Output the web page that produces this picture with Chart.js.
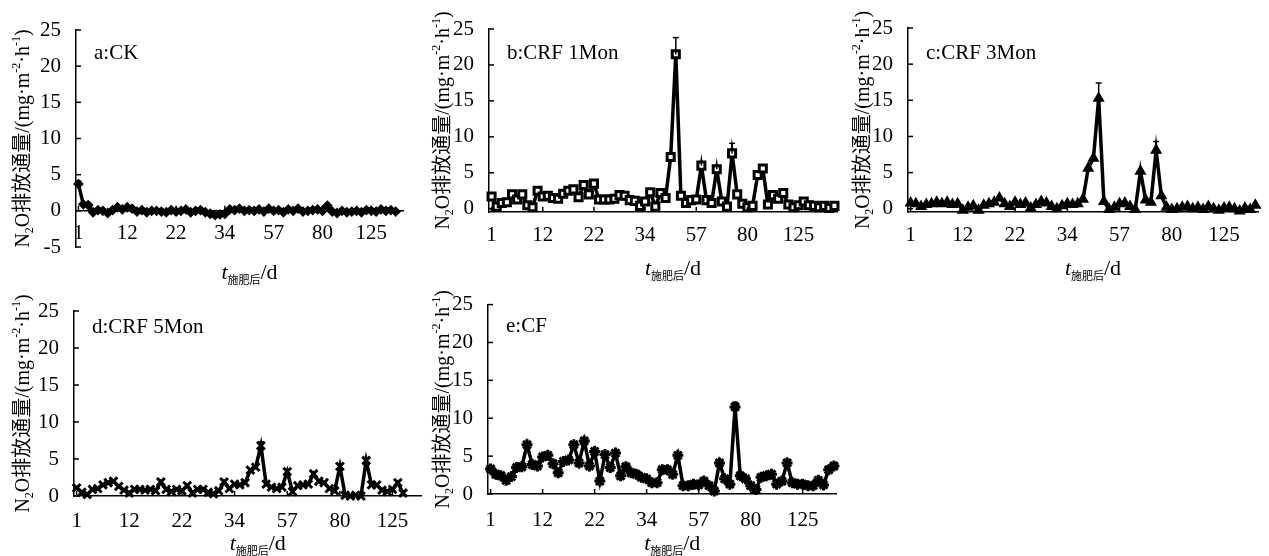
<!DOCTYPE html>
<html>
<head>
<meta charset="utf-8">
<script src="https://cdn.jsdelivr.net/npm/chart.js@4.4.0/dist/chart.umd.min.js"></script>
<style>
  html, body { margin: 0; padding: 0; background: #fff; }
  #wrap { position: relative; width: 1269px; height: 556px; overflow: hidden; }
  canvas { position: absolute; }
</style>
</head>
<body>
<div id="wrap">
  <canvas id="ca"></canvas>
  <canvas id="cb"></canvas>
  <canvas id="cc"></canvas>
  <canvas id="cd"></canvas>
  <canvas id="ce"></canvas>
</div>
<script>
// ---- data ----
const dayTicks = ['1', '12', '22', '34', '57', '80', '125'];
const yTicksA = [-5, 0, 5, 10, 15, 20, 25];
const yTicks = [0, 5, 10, 15, 20, 25];

const aCK = [3.7, 0.9, 0.8, -0.2, 0.1, 0.0, -0.3, 0.1, 0.5, 0.2,
  0.5, 0.3, -0.1, 0.1, -0.2, 0.0, 0.0, -0.1, -0.2, 0.1,
  -0.1, 0.0, 0.2, -0.2, 0.0, 0.1, -0.2, -0.4, -0.6, -0.5,
  -0.4, 0.2, 0.1, 0.3, 0.0, 0.1, 0.0, 0.2, -0.1, 0.3,
  0.0, 0.1, -0.2, 0.2, 0.0, 0.3, -0.1, 0.0, 0.1, 0.2,
  0.0, 0.7, -0.1, -0.3, 0.0, -0.2, -0.1, 0.0, -0.2, 0.1,
  0.0, -0.1, 0.2, 0.0, 0.1, -0.1];

const bCRF1 = [1.7, 0.3, 0.8, 0.9, 2.0, 1.3, 2.0, 0.5, 0.2, 2.5,
  1.7, 1.8, 1.5, 1.4, 2.1, 2.5, 2.7, 1.6, 3.3, 2.0,
  3.5, 1.3, 1.3, 1.3, 1.4, 1.9, 1.8, 1.2, 1.1, 0.4,
  1.0, 2.3, 0.3, 2.2, 1.5, 7.2, 21.5, 1.8, 0.8, 1.2,
  1.3, 6.0, 1.2, 0.8, 5.5, 1.0, 0.3, 7.7, 2.0, 0.7,
  0.2, 0.4, 4.7, 5.6, 0.6, 1.9, 1.4, 2.2, 0.6, 0.2,
  0.5, 1.0, 0.5, 0.4, 0.2, 0.4, 0.1, 0.4];

const cCRF3 = [0.8, 0.7, 0.3, 0.6, 0.7, 0.9, 0.7, 0.9, 0.6, 0.7,
  -0.2, 0.2, 0.4, -0.2, 0.5, 0.7, 0.9, 1.5, 0.7, 0.3,
  0.9, 0.6, 0.8, 0.1, 0.6, 1.0, 0.8, 0.3, 0.0, 0.4,
  0.7, 0.6, 0.7, 1.3, 5.6, 7.0, 15.3, 1.0, -0.1, 0.2,
  0.7, 0.8, 0.3, -0.1, 5.2, 1.2, 0.9, 8.1, 1.8, 0.2,
  -0.1, 0.0, 0.2, 0.3, 0.0, 0.2, -0.1, 0.3, 0.0, -0.2,
  0.1, 0.2, 0.0, -0.3, 0.1, -0.1, 0.5];

const dCRF5 = [1.1, 0.5, 0.2, 0.9, 1.0, 1.5, 1.8, 2.0, 1.3, 0.8,
  0.4, 0.9, 0.9, 0.8, 0.9, 0.7, 1.9, 0.9, 0.6, 0.9,
  0.7, 1.4, 0.4, 0.9, 0.9, 0.5, 0.3, 0.7, 1.9, 1.0,
  1.6, 1.5, 1.8, 3.5, 3.9, 6.8, 1.6, 1.2, 1.0, 1.2,
  3.3, 0.6, 1.4, 1.5, 1.6, 3.0, 2.0, 1.8, 1.0, 0.7,
  4.0, 0.1, 0.0, 0.1, 0.0, 4.8, 1.5, 1.5, 0.8, 0.6,
  0.9, 1.8, 0.4];

const eCF = [3.3, 2.6, 2.4, 1.8, 2.3, 3.5, 3.6, 6.5, 3.9, 3.7,
  4.9, 5.1, 4.0, 2.8, 4.3, 4.5, 6.5, 4.1, 7.0, 3.7,
  5.6, 1.7, 5.2, 3.5, 5.4, 2.4, 3.6, 2.8, 2.6, 2.2,
  2.0, 1.5, 1.5, 3.2, 3.2, 2.6, 5.1, 1.1, 1.1, 1.3,
  1.2, 1.7, 1.1, 0.4, 4.1, 2.0, 1.3, 11.5, 2.4, 2.0,
  1.1, 0.6, 2.2, 2.4, 2.6, 1.3, 1.7, 4.1, 1.5, 1.3,
  1.3, 1.1, 1.1, 1.8, 1.2, 3.2, 3.7];

// upper error bars: [index, error]
const aErr = [[0, 0.4]];
const bErr = [[36, 2.3], [47, 1.4], [41, 0.5], [44, 0.4]];
const cErr = [[36, 2.1], [47, 1.2]];
const dErr = [[35, 0.5]];
const eErr = [[47, 0.6]];

const SERIF = "'Liberation Serif', 'Times New Roman', serif";
const MIXED = "'Liberation Serif', 'Noto Sans CJK SC', serif";
const CJK = "'Noto Sans CJK SC', sans-serif";

// ---- drawing helpers ----
function richText(ctx, segs, x, y, rotate) {
  ctx.save();
  ctx.translate(x, y);
  if (rotate) ctx.rotate(-Math.PI / 2);
  ctx.textBaseline = 'alphabetic';
  ctx.fillStyle = '#000';
  let w = 0;
  segs.forEach(s => { ctx.font = s.font; w += ctx.measureText(s.t).width; });
  let cx = -w / 2;
  segs.forEach(s => {
    ctx.font = s.font;
    ctx.fillText(s.t, cx, s.dy);
    cx += ctx.measureText(s.t).width;
  });
  ctx.restore();
}

const yTitle = [
  { t: 'N', font: `20px ${MIXED}`, dy: 7 },
  { t: '2', font: `12px ${SERIF}`, dy: 11 },
  { t: 'O排放通量/(mg·m', font: `20px ${MIXED}`, dy: 7 },
  { t: '-2', font: `12px ${SERIF}`, dy: -2 },
  { t: '·h', font: `20px ${MIXED}`, dy: 7 },
  { t: '-1', font: `12px ${SERIF}`, dy: -2 },
  { t: ')', font: `20px ${MIXED}`, dy: 7 }
];
const xTitle = [
  { t: 't', font: `italic 22px ${SERIF}`, dy: 7 },
  { t: '施肥后', font: `11px ${CJK}`, dy: 12 },
  { t: '/d', font: `22px ${SERIF}`, dy: 7 }
];

function line(ctx, x1, y1, x2, y2) {
  ctx.beginPath(); ctx.moveTo(x1, y1); ctx.lineTo(x2, y2); ctx.stroke();
}

const decor = {
  id: 'decor',
  afterDraw(chart, args, o) {
    const ctx = chart.ctx, a = chart.chartArea;
    const xs = chart.scales.x, ys = chart.scales.y;
    const axY = o.zeroAxis ? ys.getPixelForValue(0) : a.bottom;
    ctx.save();
    ctx.strokeStyle = '#000';
    ctx.lineWidth = 1.5;
    // inward tick marks
    ys.ticks.forEach(t => {
      const y = ys.getPixelForValue(t.value);
      line(ctx, a.left, y, a.left + 5, y);
    });
    chart.data.labels.forEach((l, i) => {
      if (!l) return;
      const x = xs.getPixelForValue(i);
      line(ctx, x, axY, x, axY - 5);
    });
    // error bars
    const data = chart.data.datasets[0].data;
    o.err.forEach(([i, e]) => {
      const x = xs.getPixelForValue(i);
      const y1 = ys.getPixelForValue(data[i]);
      const y2 = ys.getPixelForValue(data[i] + e);
      line(ctx, x, y1, x, y2);
      line(ctx, x - 3, y2, x + 3, y2);
    });
    // panel name
    ctx.fillStyle = '#000';
    ctx.font = `21px ${SERIF}`;
    ctx.textBaseline = 'middle';
    ctx.textAlign = 'left';
    ctx.fillText(o.name, a.left + 18, a.top + o.nameDy);
    ctx.restore();
    // axis titles
    richText(ctx, yTitle, 22, (a.top + a.bottom) / 2, true);
    richText(ctx, xTitle, (a.left + a.right) / 2 + 10, o.xTitleY, false);
  }
};
Chart.register(decor);

function makePanel(id, box, area, cfg) {
  const cv = document.getElementById(id);
  cv.width = box.w; cv.height = box.h;
  cv.style.left = box.x + 'px'; cv.style.top = box.y + 'px';
  const labels = Array.from({ length: cfg.nCat }, (_, i) => i % 10 === 0 ? (dayTicks[i / 10] || '') : '');
  const tickFont = { family: SERIF, size: 21 };
  return new Chart(cv, {
    type: 'line',
    data: {
      labels: labels,
      datasets: [{
        data: cfg.data,
        borderColor: '#000',
        borderWidth: 3.5,
        tension: 0,
        clip: false,
        pointStyle: cfg.pointStyle,
        pointRadius: cfg.pointRadius,
        pointBackgroundColor: cfg.pointFill,
        pointBorderColor: '#000',
        pointBorderWidth: cfg.pointBorder
      }]
    },
    options: {
      responsive: false,
      animation: false,
      devicePixelRatio: 1,
      layout: {
        padding: {
          left: 0,
          top: area.t - box.y,
          right: box.x + box.w - area.r,
          bottom: cfg.zeroAxis ? box.y + box.h - area.b : 0
        }
      },
      plugins: {
        legend: { display: false },
        tooltip: { enabled: false },
        decor: { name: cfg.name, nameDy: cfg.nameDy, err: cfg.err, zeroAxis: cfg.zeroAxis, xTitleY: cfg.xTitleY }
      },
      scales: {
        x: {
          type: 'category',
          offset: true,
          position: cfg.zeroAxis ? { y: 0 } : 'bottom',
          grid: { display: false },
          border: { color: '#000', width: 1.5 },
          ticks: { autoSkip: false, maxRotation: 0, padding: cfg.xPad, font: tickFont, color: '#000' },
          afterFit: s => { if (!cfg.zeroAxis) s.height = box.y + box.h - area.b; }
        },
        y: {
          min: cfg.yMin,
          max: 25,
          grid: { display: false },
          border: { color: '#000', width: 1.5 },
          ticks: { padding: 7, font: tickFont, color: '#000' },
          afterBuildTicks: s => { s.ticks = cfg.yTicks.map(v => ({ value: v })); },
          afterFit: s => { s.width = area.l - box.x; }
        }
      }
    }
  });
}

makePanel('ca', { x: 0, y: 0, w: 412, h: 285 }, { l: 76, t: 30, r: 403, b: 247 }, {
  nCat: 67, data: aCK, yMin: -5, yTicks: yTicksA, zeroAxis: true, xPad: 2, xTitleY: 272,
  name: 'a:CK', nameDy: 23, err: aErr,
  pointStyle: 'rectRot', pointRadius: 4, pointFill: '#000', pointBorder: 2
});
makePanel('cb', { x: 420, y: 0, w: 425, h: 285 }, { l: 489, t: 29, r: 838, b: 212 }, {
  nCat: 68, data: bCRF1, yMin: -0.45, yTicks: yTicks, zeroAxis: false, xPad: 3, xTitleY: 268,
  name: 'b:CRF 1Mon', nameDy: 24, err: bErr,
  pointStyle: 'rect', pointRadius: 5, pointFill: '#fff', pointBorder: 3
});
makePanel('cc', { x: 840, y: 0, w: 429, h: 285 }, { l: 908, t: 28, r: 1258, b: 212 }, {
  nCat: 67, data: cCRF3, yMin: -0.45, yTicks: yTicks, zeroAxis: false, xPad: 3, xTitleY: 268,
  name: 'c:CRF 3Mon', nameDy: 25, err: cErr,
  pointStyle: 'triangle', pointRadius: 5, pointFill: '#000', pointBorder: 2
});
makePanel('cd', { x: 0, y: 285, w: 430, h: 271 }, { l: 74, t: 311, r: 425, b: 496 }, {
  nCat: 66, data: dCRF5, yMin: 0, yTicks: yTicks, zeroAxis: false, xPad: 5, xTitleY: 258,
  name: 'd:CRF 5Mon', nameDy: 16, err: dErr,
  pointStyle: 'crossRot', pointRadius: 5.5, pointFill: '#000', pointBorder: 3
});
makePanel('ce', { x: 420, y: 285, w: 425, h: 271 }, { l: 488, t: 304, r: 838, b: 494 }, {
  nCat: 67, data: eCF, yMin: 0, yTicks: yTicks, zeroAxis: false, xPad: 6, xTitleY: 258,
  name: 'e:CF', nameDy: 22, err: eErr,
  pointStyle: 'star', pointRadius: 5.5, pointFill: '#000', pointBorder: 3
});
</script>
</body>
</html>
